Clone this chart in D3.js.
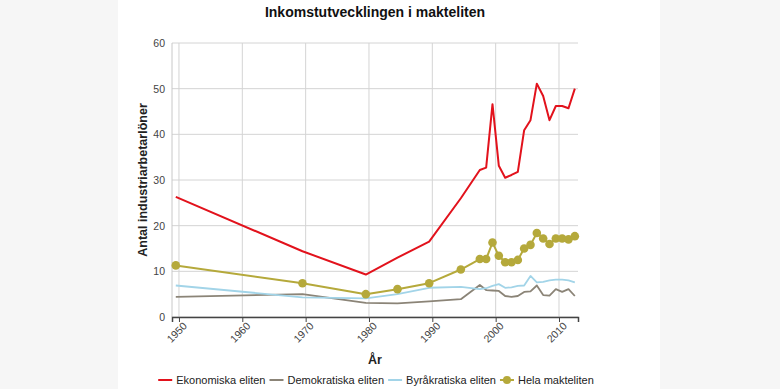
<!DOCTYPE html>
<html>
<head>
<meta charset="utf-8">
<script src="https://cdn.jsdelivr.net/npm/d3@7"></script>
<style>
  body { margin: 0; background: #f6f6f6; }
  svg { display: block; font-family: "Liberation Sans", Arial, sans-serif; }
</style>
</head>
<body>
<div id="chart"></div>
<script>
// Data
const years = [1950, 1970, 1980, 1985, 1990, 1995, 1998, 1999, 2000, 2001, 2002, 2003, 2004, 2005, 2006, 2007, 2008, 2009, 2010, 2011, 2012, 2013];
const ekonomiska = [26.3, 14.4, 9.3, 13.0, 16.5, 26.0, 32.2, 32.7, 46.6, 33.1, 30.5, 31.1, 31.8, 40.9, 43.1, 51.1, 48.4, 43.1, 46.2, 46.2, 45.7, 50.0];
const demokratiska = [4.4, 5.0, 3.1, 3.0, 3.4, 3.9, 7.0, 5.9, 5.8, 5.7, 4.6, 4.4, 4.6, 5.5, 5.6, 6.9, 4.8, 4.7, 6.1, 5.5, 6.1, 4.6];
const byrakratiska = [6.9, 4.3, 4.1, 5.0, 6.4, 6.6, 6.1, 6.3, 6.8, 7.2, 6.4, 6.5, 6.8, 6.9, 9.0, 7.6, 7.7, 8.0, 8.2, 8.2, 8.0, 7.6];
const helaMakteliten = [11.3, 7.4, 5.0, 6.1, 7.4, 10.4, 12.7, 12.7, 16.3, 13.4, 12.0, 12.0, 12.5, 15.0, 15.8, 18.4, 17.2, 16.0, 17.2, 17.2, 17.0, 17.7];
const xTickLabels = [1950, 1960, 1970, 1980, 1990, 2000, 2010];
const yTicks = [0, 10, 20, 30, 40, 50, 60];

const series = [
  {name: 'Ekonomiska eliten', values: ekonomiska, color: '#e2121c', width: 2, dots: false},
  {name: 'Demokratiska eliten', values: demokratiska, color: '#8b8477', width: 1.8, dots: false},
  {name: 'Byråkratiska eliten', values: byrakratiska, color: '#a2d4e8', width: 1.8, dots: false},
  {name: 'Hela makteliten', values: helaMakteliten, color: '#b5a93b', width: 2, dots: true}
];

const svgWidth = 780, svgHeight = 389;
const margin = {top: 43, right: 202, bottom: 72, left: 172};
const width = svgWidth - margin.left - margin.right;
const height = svgHeight - margin.top - margin.bottom;

const root = d3.select('#chart')
  .append('svg')
  .attr('width', svgWidth)
  .attr('height', svgHeight);

// white panel
root.append('rect')
  .attr('x', 118).attr('y', 0)
  .attr('width', 542).attr('height', svgHeight)
  .attr('fill', '#fff');

const svg = root.append('g')
  .attr('transform', `translate(${margin.left},${margin.top})`);

// points in the original sit half a year before the labelled gridlines
const x = d3.scaleLinear().domain([1949.4, 2013.5]).range([0, width]);
const xAxisScale = x.copy().domain(x.domain().map(d => d - 0.5));
const y = d3.scaleLinear().domain([0, 60]).range([height, 0]);

// grid
svg.append('g')
  .selectAll('line.h')
  .data(yTicks)
  .join('line')
  .attr('x1', 0).attr('x2', width)
  .attr('y1', d => y(d)).attr('y2', d => y(d))
  .attr('stroke', '#d4d4d4');

svg.append('g')
  .selectAll('line.v')
  .data(xTickLabels)
  .join('line')
  .attr('x1', d => xAxisScale(d)).attr('x2', d => xAxisScale(d))
  .attr('y1', 0).attr('y2', height)
  .attr('stroke', '#d4d4d4');

svg.append('line')
  .attr('x1', 0).attr('x2', 0)
  .attr('y1', 0).attr('y2', height)
  .attr('stroke', '#c8c8c8');

// y axis labels
svg.append('g')
  .call(d3.axisLeft(y).tickValues(yTicks).tickSize(0).tickPadding(7))
  .call(g => g.select('.domain').remove())
  .selectAll('text')
  .attr('fill', '#444')
  .style('font-size', '10.5px');

// x axis
const xAxis = svg.append('g')
  .attr('transform', `translate(0,${height})`)
  .call(d3.axisBottom(xAxisScale).tickValues(xTickLabels).tickFormat(d3.format('d')).tickSize(5));
xAxis.select('.domain').attr('stroke', '#444').attr('stroke-width', 1.5);
xAxis.selectAll('.tick line').attr('stroke', '#444');
xAxis.selectAll('text')
  .attr('fill', '#444')
  .style('font-size', '10.5px')
  .attr('text-anchor', 'end')
  .attr('dx', '-0.1em')
  .attr('dy', '0.45em')
  .attr('transform', 'rotate(-45)');

// lines
const line = d3.line()
  .x((d, i) => x(years[i]))
  .y(d => y(d));

series.forEach(s => {
  svg.append('path')
    .datum(s.values)
    .attr('fill', 'none')
    .attr('stroke', s.color)
    .attr('stroke-width', s.width)
    .attr('stroke-linejoin', 'round')
    .attr('d', line);
  if (s.dots) {
    svg.append('g')
      .selectAll('circle')
      .data(s.values)
      .join('circle')
      .attr('cx', (d, i) => x(years[i]))
      .attr('cy', d => y(d))
      .attr('r', 4.3)
      .attr('fill', s.color);
  }
});

// titles
root.append('text')
  .attr('x', 375).attr('y', 17)
  .attr('text-anchor', 'middle')
  .style('font-size', '14px')
  .style('font-weight', 'bold')
  .attr('fill', '#111')
  .text('Inkomstutvecklingen i makteliten');

root.append('text')
  .attr('transform', `translate(147,${margin.top + height / 2}) rotate(-90)`)
  .attr('text-anchor', 'middle')
  .style('font-size', '12.5px')
  .style('font-weight', 'bold')
  .attr('fill', '#222')
  .text('Antal industriarbetarlöner');

root.append('text')
  .attr('x', 375).attr('y', 364)
  .attr('text-anchor', 'middle')
  .style('font-size', '12.5px')
  .style('font-weight', 'bold')
  .attr('fill', '#222')
  .text('År');

// legend, laid out by text width and centred under the plot
const legend = root.append('g').attr('transform', 'translate(0,380)');
let cursor = 0;
series.forEach(s => {
  const g = legend.append('g').attr('transform', `translate(${cursor},0)`);
  g.append('line')
    .attr('x1', 0).attr('x2', 14)
    .attr('stroke', s.color).attr('stroke-width', 2);
  if (s.dots) {
    g.append('circle').attr('cx', 7).attr('r', 4).attr('fill', s.color);
  }
  const t = g.append('text')
    .attr('x', 18).attr('dy', '0.35em')
    .style('font-size', '11px')
    .attr('fill', '#222')
    .text(s.name);
  cursor += 18 + t.node().getComputedTextLength() + 4;
});
const legendWidth = cursor - 4;
legend.attr('transform', `translate(${376 - legendWidth / 2},380)`);
</script>
</body>
</html>
